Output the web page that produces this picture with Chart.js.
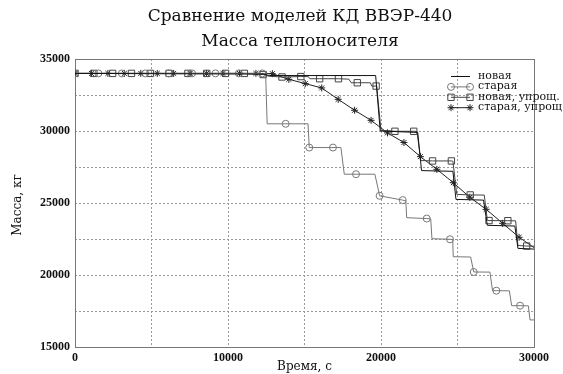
<!DOCTYPE html>
<html lang="ru">
<head>
<meta charset="utf-8">
<title>Масса теплоносителя</title>
<script src="https://cdn.jsdelivr.net/npm/chart.js@4.4.1/dist/chart.umd.min.js"></script>
<style>
  html, body { margin: 0; padding: 0; background: #fff; }
  #wrap { position: relative; width: 563px; height: 374px; }
</style>
</head>
<body>
<div id="wrap"><canvas id="massChart" width="563" height="374"></canvas></div>
<script>
// --- DATA: время, с / масса, кг ---

// новая (без маркеров)
const newT = [0, 12300, 12700, 19650, 19950, 22400, 22650, 24700, 24900, 26700, 26950, 28750, 28950, 30000];
const newM = [34000, 33950, 33850, 33850, 30000, 29900, 27250, 27200, 25250, 25200, 23450, 23400, 21850, 21800];

// старая
const oldT = [0, 1530, 3060, 4590, 6120, 7650, 9180, 10710, 12240, 12460, 12560, 13770, 15230, 15310,
  16860, 17380, 17600, 18370, 19600, 19910, 21420, 21620, 21680, 22990, 23250, 23330, 24510, 24690,
  24720, 25860, 26060, 27120, 27290, 27540, 28390, 28540, 29090, 29630, 29740, 30000];
const oldM = [34000, 34000, 34000, 34000, 34000, 34000, 34000, 34000, 34000, 34000, 30500, 30500, 30500, 28850,
  28850, 28850, 27000, 27000, 27000, 25500, 25200, 25150, 23980, 23920, 23900, 22520, 22480, 22460,
  21270, 21250, 20210, 20200, 18910, 18910, 18900, 17870, 17870, 17860, 16880, 16880];
const oldMarks = [0, 1530, 3060, 4590, 6120, 7650, 9180, 10710, 12240, 13770, 15310, 16860, 18370,
  19910, 21420, 22990, 24510, 26060, 27540, 29090];

// новая, упрощ.
const newSimpT = [0, 1230, 2460, 3690, 4920, 6150, 7380, 8610, 9840, 11070, 12300, 12700, 13530, 14760,
  15250, 15350, 15990, 17220, 17900, 18050, 18450, 19300, 19400, 19680, 19720, 20000, 20910, 22140,
  22350, 22600, 23370, 24600, 24700, 24950, 25830, 26750, 26950, 27060, 28290, 28800, 28950, 29520, 30000];
const newSimpM = [34000, 34000, 34000, 34000, 34000, 34000, 34000, 34000, 34000, 34000, 33920, 33800, 33750, 33780,
  33780, 33630, 33630, 33630, 33600, 33350, 33350, 33350, 33120, 33120, 33100, 30050, 29980, 29980,
  29970, 27950, 27920, 27920, 27900, 25600, 25560, 25550, 23800, 23780, 23770, 23760, 22050, 22010, 22000];
const newSimpMarks = [0, 1230, 2460, 3690, 4920, 6150, 7380, 8610, 9840, 11070, 12300, 13530, 14760,
  15990, 17220, 18450, 19680, 20910, 22140, 23370, 24600, 25830, 27060, 28290, 29520];

// старая, упрощ.
const oldSimpT = [0, 1075, 2150, 3225, 4300, 5375, 6450, 7525, 8600, 9675, 10750, 11825, 12900, 13975,
  15050, 16125, 17200, 18275, 19350, 20425, 21500, 22575, 23650, 24725, 25800, 26875, 27950, 29025, 30000];
const oldSimpM = [34000, 34000, 34000, 34000, 34000, 34000, 34000, 34000, 34000, 34000, 34000, 34000, 33980, 33590,
  33290, 32990, 32200, 31440, 30740, 29870, 29200, 28220, 27340, 26410, 25400, 24560, 23590, 22620, 21900];
const oldSimpMarks = oldSimpT.slice(0, -1);

const legendLabels = ['новая', 'старая', 'новая, упрощ.', 'старая, упрощ.'];
const titleLines = ['Сравнение моделей КД ВВЭР-440', 'Масса теплоносителя'];
const xTitle = 'Время, с';
const yTitle = 'Масса, кг';

const SERIF = '"DejaVu Serif", "Liberation Serif", serif';
const TIMES = '"Liberation Serif", serif';

// Line + optional open markers at the listed times
function series(ts, ms, marks, color, style, radius) {
  return {
    data: ts.map((t, i) => ({ x: t, y: ms[i] })),
    borderColor: color,
    borderWidth: 1,
    fill: false,
    tension: 0,
    pointStyle: style,
    pointRadius: ctx => (marks.includes(ts[ctx.dataIndex]) ? radius : 0),
    pointHoverRadius: 0,
    pointBorderColor: color,
    pointBackgroundColor: 'rgba(0,0,0,0)',
    pointBorderWidth: 1
  };
}

const styles = [
  { color: '#111', style: false, radius: 0 },
  { color: '#777', style: 'circle', radius: 3.5 },
  { color: '#444', style: 'rect', radius: 4.5 },
  { color: '#222', style: 'star', radius: 3.5 }
];

// Frame, titles and the key in the upper right
const decor = {
  id: 'decor',
  beforeDatasetsDraw(chart) {
    const { ctx, chartArea: a } = chart;
    ctx.save();
    ctx.strokeStyle = '#777';
    ctx.lineWidth = 1;
    ctx.strokeRect(a.left + 0.5, a.top + 0.5, a.right - a.left, a.bottom - a.top);
    ctx.restore();
  },
  afterDatasetsDraw(chart) {
    const { ctx, chartArea: a } = chart;
    ctx.save();
    ctx.fillStyle = '#111';
    ctx.textAlign = 'center';
    ctx.textBaseline = 'middle';
    ctx.font = `17px ${SERIF}`;
    ctx.fillText(titleLines[0], 300, 17);
    ctx.fillText(titleLines[1], 300, 42);

    ctx.font = `12px ${SERIF}`;
    ctx.fillText(xTitle, (a.left + a.right) / 2, 367);
    ctx.save();
    ctx.translate(18, (a.top + a.bottom) / 2 + 2);
    ctx.rotate(-Math.PI / 2);
    ctx.fillText(yTitle, 0, 0);
    ctx.restore();

    // key
    ctx.textAlign = 'left';
    ctx.font = `11px ${SERIF}`;
    legendLabels.forEach((label, i) => {
      const y = 76 + i * 10.4;
      const s = styles[i];
      ctx.strokeStyle = s.color;
      ctx.lineWidth = 1;
      ctx.beginPath();
      ctx.moveTo(451, y + 0.5);
      ctx.lineTo(470, y + 0.5);
      ctx.stroke();
      if (s.style) {
        ctx.fillStyle = 'rgba(0,0,0,0)';
        [451, 470].forEach(x => Chart.helpers.drawPoint(ctx,
          { pointStyle: s.style, radius: s.radius, rotation: 0, borderWidth: 1 }, x, y + 0.5));
      }
      ctx.fillStyle = '#111';
      ctx.fillText(label, 478, y);
    });
    ctx.restore();
  }
};

const tickFont = { family: TIMES, size: 12, weight: 'bold' };

new Chart(document.getElementById('massChart'), {
  type: 'line',
  data: {
    datasets: [
      series(newT, newM, [], styles[0].color, false, 0),
      series(oldT, oldM, oldMarks, styles[1].color, styles[1].style, styles[1].radius),
      series(newSimpT, newSimpM, newSimpMarks, styles[2].color, styles[2].style, styles[2].radius),
      series(oldSimpT, oldSimpM, oldSimpMarks, styles[3].color, styles[3].style, styles[3].radius)
    ]
  },
  options: {
    responsive: false,
    devicePixelRatio: 1,
    animation: false,
    events: [],
    layout: { padding: { top: 59, right: 29, bottom: 0, left: 0 } },
    plugins: { legend: { display: false }, title: { display: false }, tooltip: { enabled: false } },
    scales: {
      x: {
        type: 'linear',
        min: 0,
        max: 30000,
        afterFit: s => { s.height = 27; },
        ticks: {
          stepSize: 5000,
          autoSkip: false,
          maxRotation: 0,
          padding: 4,
          color: '#111',
          font: tickFont,
          callback: v => (v % 10000 === 0 ? `${v}` : '')
        },
        grid: { color: '#999', drawTicks: false },
        border: { display: false, dash: [2, 2] }
      },
      y: {
        min: 15000,
        max: 35000,
        afterFit: s => { s.width = 75; },
        ticks: {
          stepSize: 2500,
          autoSkip: false,
          padding: 5,
          color: '#111',
          font: tickFont,
          callback: v => (v % 5000 === 0 ? `${v}` : '')
        },
        grid: { color: '#999', drawTicks: false },
        border: { display: false, dash: [2, 2] }
      }
    }
  },
  plugins: [decor]
});
</script>
</body>
</html>
